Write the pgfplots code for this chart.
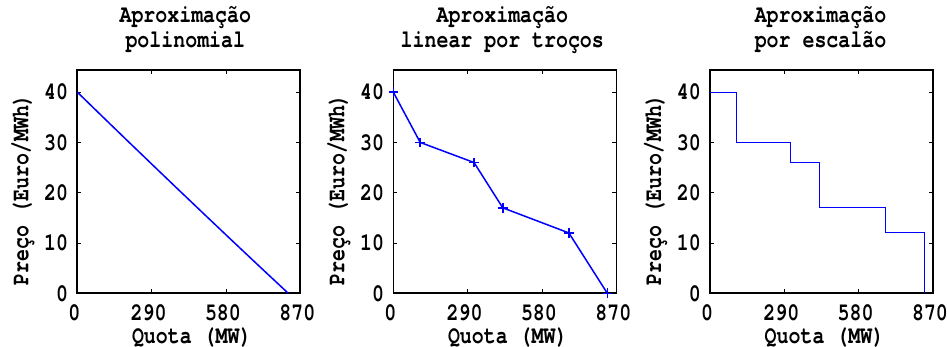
\documentclass[border=0pt]{standalone}
\usepackage{fontspec}
\setmainfont{texgyrecursor-bold.otf}[FakeStretch=0.8]
\usepackage{pgfplots}
\pgfplotsset{compat=1.18}
\definecolor{mblue}{RGB}{0,0,255}
\pgfplotsset{
  mlstyle/.style={
    scale only axis, width=223bp, height=223.3bp,
    xmin=0, xmax=870, ymin=0, ymax=44.4,
    xtick={0,290,580,870}, ytick={0,10,20,30,40},
    tick align=inside, major tick length=4bp,
    tick style={black, line width=0.8bp},
    axis line style={line width=1.6bp},
    /pgf/number format/assume math mode=true,
    tick label style={font=\fontsize{25}{26}\selectfont},
    xticklabel style={anchor=base, yshift=-26.7bp, xshift=-3bp, inner sep=0pt},
    yticklabel style={anchor=east, xshift=-9bp, inner sep=0pt},
    label style={font=\fontsize{25}{26}\selectfont},
    xlabel={Quota (MW)},
    ylabel={Preço (Euro/MWh)},
    xlabel style={at={(axis description cs:0.5,0)}, anchor=base, yshift=-50bp, xshift=3bp, inner sep=0pt},
    ylabel style={at={(axis description cs:-0.2197,0.464)}, anchor=base, inner sep=0pt},
    title style={at={(axis description cs:0.5,1)}, anchor=base, yshift=17bp, align=center, font=\fontsize{25}{24.4}\selectfont, inner sep=0pt},
    clip=false,
  }
}
\begin{document}
\begin{tikzpicture}
\useasboundingbox (0,0) rectangle (947bp,347bp);
\begin{axis}[mlstyle, at={(77.3bp,53.7bp)}, anchor=south west,
  title={Aproximação\\polinomial}, title style={xshift=-3.5bp}]
\addplot[mblue, line width=1.5bp] coordinates {
(0,40) (100,35.05) (200,30.12) (300,25.22) (400,20.34) (500,15.49) (600,10.66) (700,5.86) (823,0)};
\end{axis}
\begin{axis}[mlstyle, at={(393.3bp,53.7bp)}, anchor=south west,
  title={Aproximação\\linear por troços}, title style={xshift=-2.5bp}]
\addplot[mblue, line width=1.5bp, mark=+, mark size=4.8bp, mark options={line width=1.5bp}] coordinates {
(0,40) (105,30) (315,26) (427,17) (685,12) (835,0)};
\end{axis}
\begin{axis}[mlstyle, at={(710bp,53.7bp)}, anchor=south west,
  title={Aproximação\\por escalão}, title style={xshift=-1bp}]
\addplot[mblue, line width=1bp, const plot] coordinates {
(0,40) (105,30) (315,26) (427,17) (685,12) (838,0)};
\end{axis}
\end{tikzpicture}
\end{document}
